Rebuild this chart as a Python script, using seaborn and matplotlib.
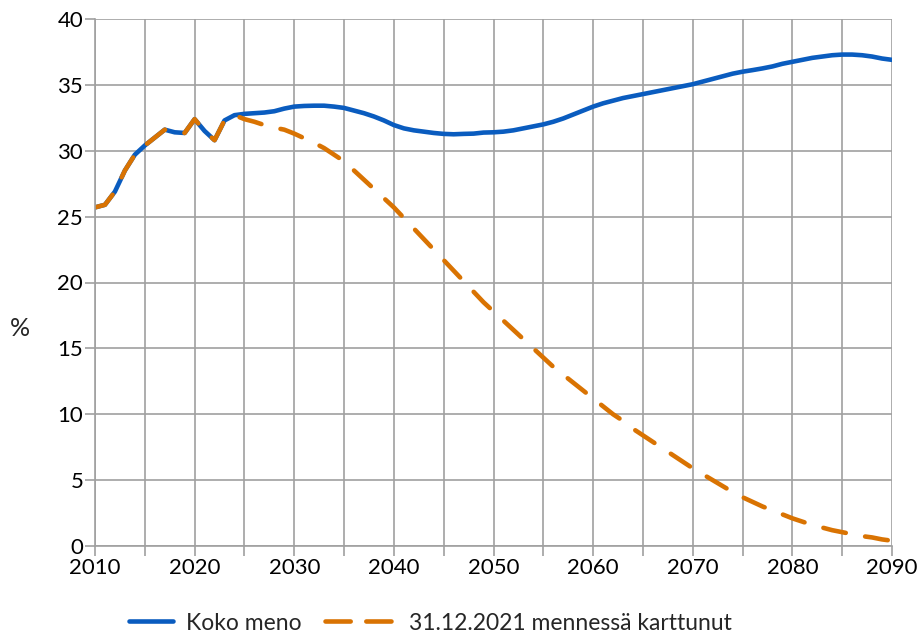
import matplotlib
matplotlib.use("Agg")
import matplotlib.pyplot as plt
import seaborn as sns
import pandas as pd
import numpy as np

years_hist = list(range(2010, 2025))
hist = [25.7, 25.9, 26.9, 28.5, 29.7, 30.4, 31.0, 31.6, 31.4, 31.35, 32.4, 31.5, 30.8, 32.3, 32.7]

years_fut = list(range(2025, 2091))
koko_fut = [32.8, 32.85, 32.9, 33.0, 33.2, 33.35, 33.4, 33.42, 33.42, 33.35,
            33.25, 33.05, 32.85, 32.6, 32.3, 31.95, 31.7, 31.55, 31.45, 31.35,
            31.28, 31.25, 31.28, 31.3, 31.38, 31.4, 31.45, 31.55, 31.7, 31.85,
            32.0, 32.2, 32.45, 32.75, 33.05, 33.35, 33.6, 33.8, 34.0, 34.15,
            34.3, 34.45, 34.6, 34.75, 34.9, 35.05, 35.25, 35.45, 35.65, 35.85,
            36.0, 36.12, 36.25, 36.4, 36.6, 36.75, 36.9, 37.05, 37.15, 37.25,
            37.3, 37.3, 37.25, 37.15, 37.0, 36.9]
kart_fut = [32.4, 32.2, 31.95, 31.75, 31.6, 31.3, 30.95, 30.6, 30.2, 29.7,
            29.2, 28.5, 27.8, 27.1, 26.4, 25.7, 24.9, 24.1, 23.3, 22.5,
            21.7, 20.9, 20.1, 19.3, 18.5, 17.8, 17.1, 16.4, 15.7, 15.0,
            14.3, 13.6, 13.0, 12.4, 11.8, 11.2, 10.6, 10.0, 9.5, 8.9,
            8.4, 7.9, 7.4, 6.9, 6.4, 5.9, 5.45, 5.0, 4.55, 4.1,
            3.7, 3.35, 3.0, 2.7, 2.4, 2.1, 1.85, 1.6, 1.4, 1.2,
            1.05, 0.9, 0.75, 0.65, 0.5, 0.4]

label_koko = "Koko meno"
label_kart = "31.12.2021 mennessä karttunut"
x_ticks = list(range(2010, 2091, 10))
y_ticks = list(range(0, 41, 5))

sns.set_theme(style="white")
plt.rcParams["font.family"] = ["Lato", "DejaVu Sans"]

df_koko = pd.DataFrame({"Vuosi": years_hist + years_fut, "Osuus": hist + koko_fut})
df_kart = pd.DataFrame({"Vuosi": years_hist + years_fut, "Osuus": hist + kart_fut})

blue = "#0a5cbf"
orange = "#d97302"
LW = 3.3

fig = plt.figure(figsize=(9.23, 6.35), dpi=100)
ax = fig.add_axes([95/923, 1-546/635, (892-95)/923, (546-19)/635])

sns.lineplot(data=df_koko, x="Vuosi", y="Osuus", ax=ax, color=blue, lw=LW,
             label=label_koko)
sns.lineplot(data=df_kart, x="Vuosi", y="Osuus", ax=ax, color=orange, lw=LW,
             label=label_kart)
for ln in ax.lines:
    ln.set_solid_capstyle("round")
ax.lines[1].set_dashes([5.0, 4.3])
ax.lines[1].set_dash_capstyle("round")

ax.set_xlim(2010, 2090)
ax.set_ylim(0, 40)
ax.set_xticks(x_ticks)
ax.set_xticks(list(range(2015, 2090, 10)), minor=True)
ax.set_yticks(y_ticks)
ax.grid(True, which="both", color="#a0a0a0", lw=1.2)
ax.set_axisbelow(True)
for s in ["top", "right"]:
    ax.spines[s].set_visible(False)
for s in ["left", "bottom"]:
    ax.spines[s].set_color("#a0a0a0")
    ax.spines[s].set_linewidth(1.2)
ax.tick_params(axis="both", which="both", direction="out", length=7, width=1.2,
               color="#a0a0a0", labelsize=16, labelcolor="black", pad=1.5,
               left=True, bottom=True)
ax.set_xlabel("")
ax.set_ylabel("")
fig.text(20/923, 1-329/635, "%", fontsize=18, ha="center", va="center")

h, l = ax.get_legend_handles_labels()
FS_LEG = 16.5
leg = ax.legend(h, l, loc="center", bbox_to_anchor=(0.404, -(623-546)/(546-19)),
                ncol=2, frameon=False, fontsize=FS_LEG, handlelength=3.1,
                columnspacing=1.05, handletextpad=0.55)
lines = leg.get_lines()
for ln in lines:
    ln.set_linewidth(LW)
    ln.set_solid_capstyle("round")
lines[1].set_dashes([5.5, 3.4])
lines[1].set_dash_capstyle("round")
xd = np.asarray(lines[0].get_xdata(), dtype=float)
x0, x1 = xd.min(), xd.max()
lines[0].set_xdata(np.linspace(x1 - (x1 - x0) * 45 / 73, x1, len(xd)))

fig.savefig("out.png", dpi=100)
